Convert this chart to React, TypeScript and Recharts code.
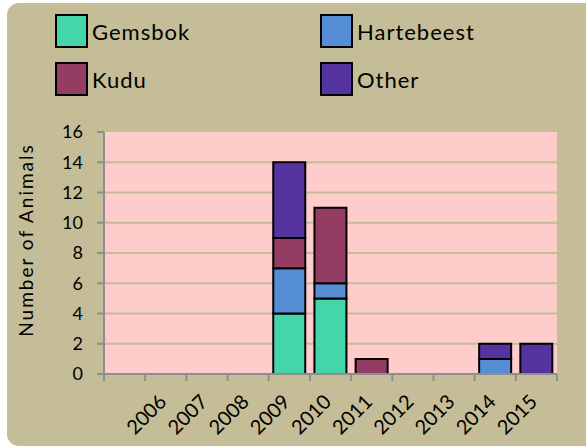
import { BarChart, Bar, XAxis, YAxis, CartesianGrid, Legend } from "recharts";

const years = ["", "2006", "2007", "2008", "2009", "2010", "2011", "2012", "2013", "2014", "2015"];
const gemsbok = [0, 0, 0, 0, 4, 5, 0, 0, 0, 0, 0];
const hartebeest = [0, 0, 0, 0, 3, 1, 0, 0, 0, 1, 0];
const kudu = [0, 0, 0, 0, 2, 5, 1, 0, 0, 0, 0];
const other = [0, 0, 0, 0, 5, 0, 0, 0, 0, 1, 2];
const yTicks = [0, 2, 4, 6, 8, 10, 12, 14, 16];
const gridValues = [2, 4, 6, 8, 10, 12, 14];

const series = [
  { key: "Gemsbok", values: gemsbok, color: "#44D6A8" },
  { key: "Hartebeest", values: hartebeest, color: "#558ED5" },
  { key: "Kudu", values: kudu, color: "#953C63" },
  { key: "Other", values: other, color: "#55349F" },
];

const data = years.map((year, i) => {
  const row: Record<string, string | number> = { year };
  series.forEach((s) => {
    row[s.key] = s.values[i];
  });
  return row;
});

const FONT = "Lato, 'Open Sans', sans-serif";
const AXIS = "#8E8E8E";

function YearTick(props: any) {
  const { x, y, payload, index, visibleTicksCount } = props;
  const half = payload?.offset ?? 20.5;
  const last = index === visibleTicksCount - 1;
  const tx = x + 2;
  const ty = y + 29;
  return (
    <g>
      <line x1={x - half} x2={x - half} y1={y} y2={y + 7} stroke={AXIS} strokeWidth={2} />
      {last && <line x1={x + half} x2={x + half} y1={y} y2={y + 7} stroke={AXIS} strokeWidth={2} />}
      <g transform={`translate(${tx}, ${ty}) rotate(-45)`}>
        <text x={0} y={0} textAnchor="end" fontSize={20} fontFamily={FONT} fill="#000">
          {payload.value}
        </text>
      </g>
    </g>
  );
}

function YLabel(props: any) {
  const { viewBox } = props;
  const x = 33;
  const y = viewBox.y + viewBox.height / 2 - 13;
  return (
    <text
      x={x}
      y={y}
      textAnchor="middle"
      transform={`rotate(-90, ${x}, ${y})`}
      fontSize={19}
      fontFamily={FONT}
      letterSpacing={2}
      fill="#000"
    >
      Number of Animals
    </text>
  );
}

function LegendBox() {
  return (
    <div
      style={{
        display: "grid",
        gridTemplateColumns: "265px 200px",
        gridAutoRows: "34px",
        rowGap: 14,
        paddingLeft: 55,
        paddingTop: 14,
        fontFamily: FONT,
        fontSize: 22,
        letterSpacing: 1,
        color: "#000",
      }}
    >
      {series.map((s) => (
        <div key={s.key} style={{ display: "flex", alignItems: "center" }}>
          <span
            style={{
              width: 29,
              height: 30,
              background: s.color,
              border: "2px solid #000",
              marginRight: 4,
              flex: "none",
            }}
          />
          <span>{s.key}</span>
        </div>
      ))}
    </div>
  );
}

export default function App() {
  return (
    <div style={{ position: "absolute", left: 0, top: 0, width: 586, height: 448, overflow: "hidden" }}>
      <div
        style={{
          position: "absolute",
          left: 7,
          top: 3,
          width: 640,
          height: 443,
          borderRadius: 12,
          background: "#C4BD97",
        }}
      />
      <div style={{ position: "absolute", left: 0, top: 0 }}>
        <BarChart
          width={586}
          height={448}
          data={data}
          margin={{ top: 132, right: 29, left: 0, bottom: 0 }}
          barCategoryGap="11%"
        >
          <CartesianGrid
            vertical={false}
            horizontalValues={gridValues}
            fill="#FFCCCC"
            stroke="#C4BD97"
            strokeWidth={2}
          />
          <XAxis
            dataKey="year"
            interval={0}
            height={74}
            tickSize={0}
            tickMargin={0}
            tickLine={false}
            axisLine={{ stroke: AXIS, strokeWidth: 2 }}
            tick={<YearTick />}
          />
          <YAxis
            width={104}
            domain={[0, 16]}
            ticks={yTicks}
            interval={0}
            tickSize={7}
            tickMargin={14}
            tickLine={{ stroke: AXIS, strokeWidth: 2 }}
            axisLine={{ stroke: AXIS, strokeWidth: 2 }}
            tick={{ fill: "#000", fontSize: 18, fontFamily: FONT }}
            label={(p: any) => <YLabel {...p} />}
          />
          <Legend
            layout="horizontal"
            verticalAlign="middle"
            align="center"
            wrapperStyle={{ top: 0, left: 0, width: 586, height: 110 }}
            content={() => <LegendBox />}
          />
          {series.map((s) => (
            <Bar
              key={s.key}
              dataKey={s.key}
              stackId="animals"
              fill={s.color}
              stroke="#000"
              strokeWidth={2}
              isAnimationActive={false}
            />
          ))}
        </BarChart>
      </div>
    </div>
  );
}
